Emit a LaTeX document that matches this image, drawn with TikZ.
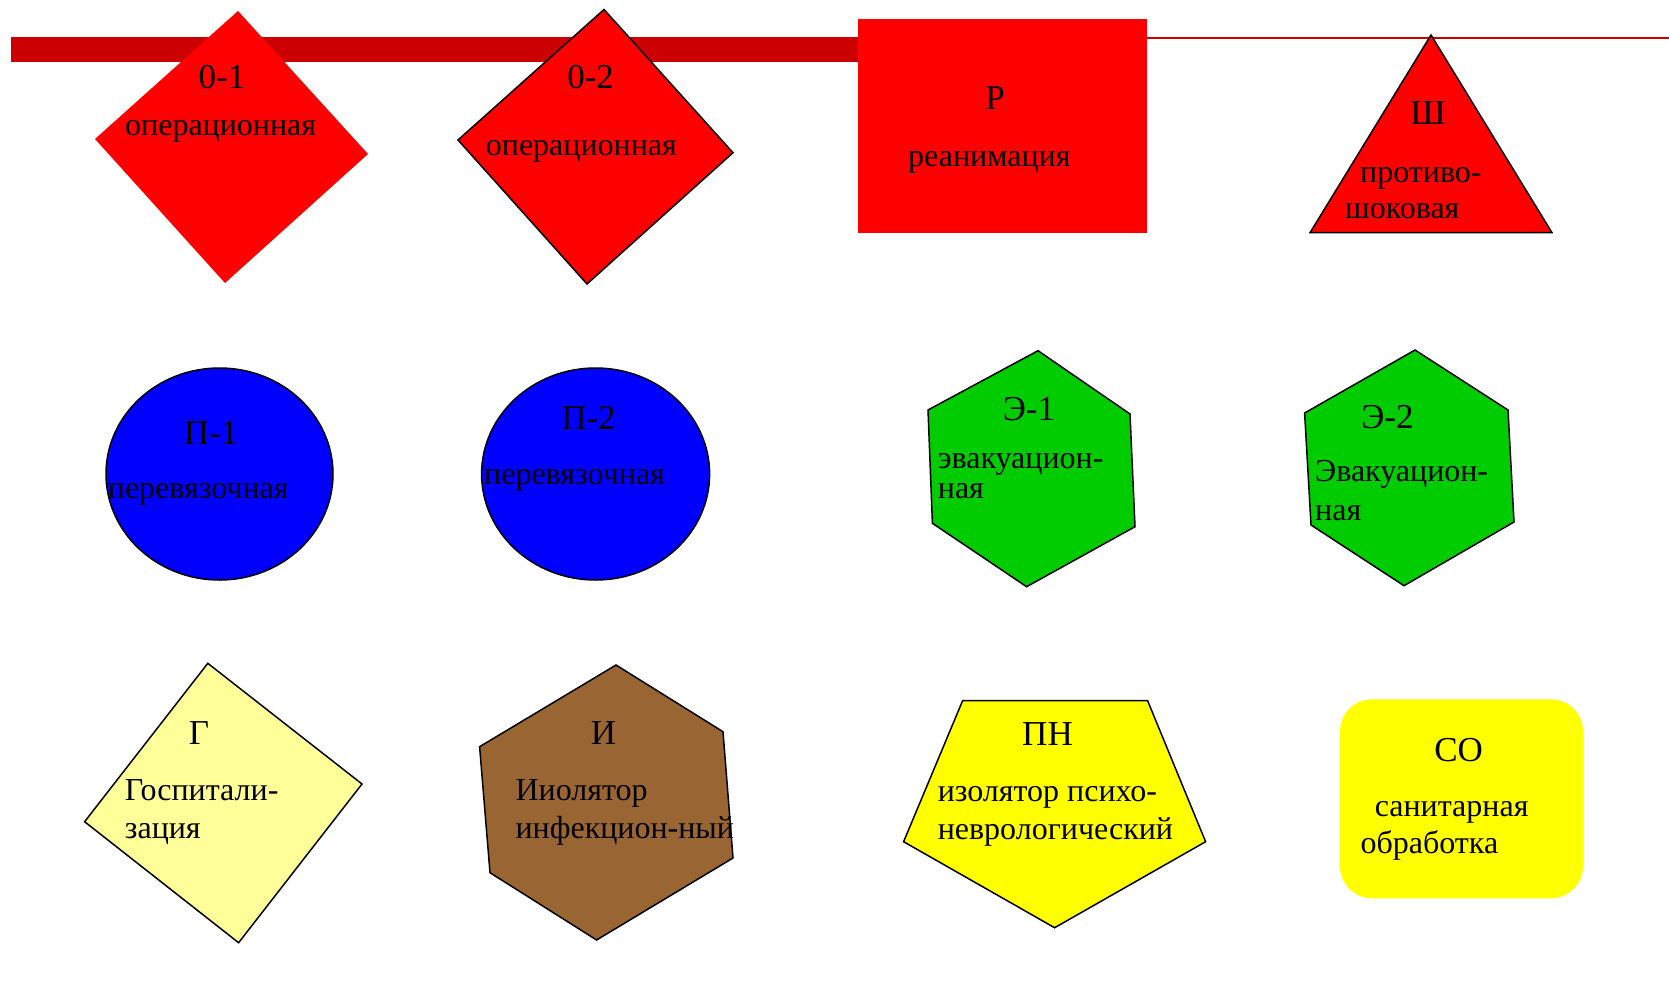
\documentclass[tikz,border=0pt]{standalone}
\usepackage{fontspec}
\setmainfont{Liberation Serif}
\usepackage{tikz}

\definecolor{barred}{HTML}{CC0000}
\definecolor{redfill}{HTML}{FF0000}
\definecolor{bluefill}{HTML}{0000FF}
\definecolor{greenfill}{HTML}{00CC00}
\definecolor{paleyellow}{HTML}{FFFF99}
\definecolor{brownfill}{HTML}{996633}
\definecolor{yellowfill}{HTML}{FFFF00}

\tikzset{
  head/.style={anchor=base, inner sep=0pt, font=\fontsize{35}{40}\selectfont},
  body/.style={anchor=base west, inner sep=0pt, font=\fontsize{32}{36}\selectfont},
  outline/.style={draw=black, line width=1.5pt, line join=miter},
}

\begin{document}
\begin{tikzpicture}[x=1pt, y=-1pt]
  \useasboundingbox (0,0) rectangle (1669,998);

  % Polosa sverhu
  \draw[barred, line width=1.7pt] (1146,37.7) -- (1669,37.7);
  \fill[barred] (11,36.7) rectangle (858,61.7);

  % 0-1 operacionnaya
  \fill[redfill] (238,11) -- (368,154) -- (225,283) -- (95,139) -- cycle;
  \node[head] (op1) at (222,88) {0-1};
  \node[body] (op1txt) at (125,135) {операционная};

  % 0-2 operacionnaya
  \filldraw[fill=redfill, outline] (604,9.5) -- (733,152.7) -- (587,284) -- (458,140) -- cycle;
  \node[head] (op2) at (590.6,88) {0-2};
  \node[body] (op2txt) at (485.7,155) {операционная};

  % R reanimaciya
  \fill[redfill] (858,19.3) rectangle (1146.5,233);
  \node[head] (rean) at (995,109) {Р};
  \node[body] (reantxt) at (908,166) {реанимация};

  % Sh protivoshokovaya
  \filldraw[fill=redfill, outline] (1431,35) -- (1552,232.7) -- (1310,232.7) -- cycle;
  \node[head] (shok) at (1428,124) {Ш};
  \node[body] (shoktxt) at (1360,182) {противо-};
  \node[body] (shoktxtb) at (1345,218) {шоковая};

  % P-1, P-2 perevyazochnye
  \filldraw[fill=bluefill, outline] (219.5,474) ellipse [x radius=113.5pt, y radius=106pt];
  \node[head] (per1) at (211,444) {П-1};
  \node[body] (per1txt) at (107.7,498) {перевязочная};

  \filldraw[fill=bluefill, outline] (595.6,474) ellipse [x radius=114pt, y radius=106pt];
  \node[head] (per2) at (588.5,429) {П-2};
  \node[body] (per2txt) at (484,484) {перевязочная};

  % E-1, E-2 evakuacionnye
  \filldraw[fill=greenfill, outline] (1038,350.7) -- (1130,414) -- (1135,526.7) -- (1026.6,586.7)
    -- (932.4,523.3) -- (928,410) -- cycle;
  \node[head] (ev1) at (1029,420) {Э-1};
  \node[body] (ev1txt) at (937.7,468.3) {эвакуацион-};
  \node[body] (ev1txtb) at (937.7,498.3) {ная};

  \filldraw[fill=greenfill, outline] (1415,350) -- (1508,410) -- (1514,522) -- (1404,585.7)
    -- (1311,525) -- (1304.6,413) -- cycle;
  \node[head] (ev2) at (1387.5,428) {Э-2};
  \node[body] (ev2txt) at (1315,481.7) {Эвакуацион-};
  \node[body] (ev2txtb) at (1315,520) {ная};

  % G gospitalizaciya
  \filldraw[fill=paleyellow, outline] (207.8,663.3) -- (362,784) -- (238.6,942.7) -- (84.6,821.7) -- cycle;
  \node[head] (gosp) at (199,744) {Г};
  \node[body] (gosptxt) at (124.7,800) {Госпитали-};
  \node[body] (gosptxtb) at (124.7,838) {зация};

  % I izolyator infekcionnyj
  \filldraw[fill=brownfill, outline] (616,665) -- (723,731.7) -- (733,858) -- (596.6,940)
    -- (490,872.7) -- (479.6,746.7) -- cycle;
  \node[head] (inf) at (603.6,744) {И};
  \node[body] (inftxt) at (515.4,800) {Ииолятор};
  \node[body] (inftxtb) at (515.4,838.3) {инфекцион-ный};

  % PN izolyator psihonevrologicheskij
  \filldraw[fill=yellowfill, outline] (962.6,700.7) -- (1147.6,700.7) -- (1205.6,841.7)
    -- (1054.6,927.7) -- (903.6,841.7) -- cycle;
  \node[head] (psih) at (1047.5,745) {ПН};
  \node[body] (psihtxt) at (937.6,801.7) {изолятор психо-};
  \node[body] (psihtxtb) at (937.6,839.3) {неврологический};

  % SO sanitarnaya obrabotka
  \fill[yellowfill, rounded corners=32pt] (1340,699.3) rectangle (1583,898.3);
  \node[head] (san) at (1458.6,761) {СО};
  \node[body] (santxt) at (1374.6,816.7) {санитарная};
  \node[body] (santxtb) at (1360.4,853) {обработка};

\end{tikzpicture}
\end{document}
